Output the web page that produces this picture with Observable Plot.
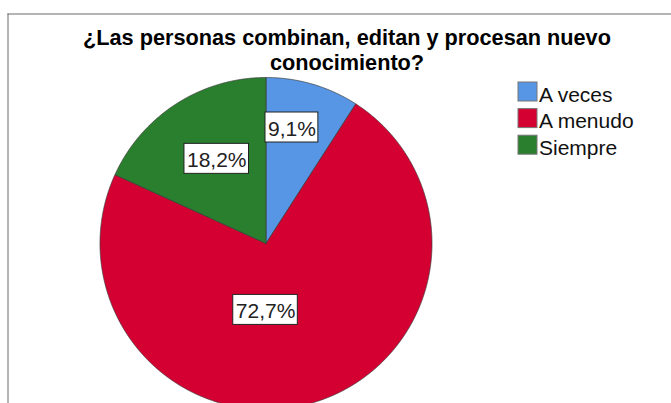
<!DOCTYPE html>
<html>
<head>
<meta charset="utf-8">
<script src="https://cdn.jsdelivr.net/npm/d3@7"></script>
<script src="https://cdn.jsdelivr.net/npm/@observablehq/plot@0.6"></script>
<style>
  html, body { margin: 0; padding: 0; background: #fff; }
  #chart svg { display: block; font-family: "Liberation Sans", Arial, sans-serif; }
</style>
</head>
<body>
<div id="chart"></div>
<script>
// ---- data ----
const categories = ["A veces", "A menudo", "Siempre"];
const percents = [9.1, 72.7, 18.2];
const pctLabels = ["9,1%", "72,7%", "18,2%"];
const colors = ["#5796e4", "#d50032", "#2a7f2e"];
const titleLines = ["¿Las personas combinan, editan y procesan nuevo", "conocimiento?"];

// ---- layout (pixels) ----
const W = 671, H = 403;
const cx = 265.5, cy = 243, R = 166;
// label placement relative to pie centre: [angle in degrees from 12 o'clock, fraction of radius]
const labelPolar = [[12.6, 0.716], [180.4, 0.40], [-30.2, 0.59]];

const arcs = d3.pie().sort(null).value(d => d)(percents);

// slice outlines as closed polygons in pixel space
const slicePts = [];
arcs.forEach((a, i) => {
  const cat = categories[i];
  slicePts.push({cat, x: cx, y: cy});
  const n = Math.max(2, Math.ceil((a.endAngle - a.startAngle) / 0.005));
  for (let k = 0; k <= n; k++) {
    const t = a.startAngle + (a.endAngle - a.startAngle) * k / n;
    slicePts.push({cat, x: cx + R * Math.sin(t), y: cy - R * Math.cos(t)});
  }
  slicePts.push({cat, x: cx, y: cy});
});

// label boxes
const ctx = document.createElement("canvas").getContext("2d");
ctx.font = "21px 'Liberation Sans', Arial, sans-serif";
const labelRows = categories.map((cat, i) => {
  const [deg, f] = labelPolar[i];
  const t = deg * Math.PI / 180;
  const x = cx + f * R * Math.sin(t);
  const y = cy - f * R * Math.cos(t);
  const w = ctx.measureText(pctLabels[i]).width + 5;
  return {cat, text: pctLabels[i], x, y, x1: x - w / 2, x2: x + w / 2, y1: y - 15, y2: y + 15};
});

const legendRows = categories.map((cat, i) => ({cat, i}));
const legY = 82, legStep = 26.6, sq = 19;

const chart = Plot.plot({
  width: W,
  height: H,
  margin: 0,
  x: {domain: [0, W], range: [0, W], axis: null},
  y: {domain: [0, H], range: [0, H], axis: null},
  color: {domain: categories, range: colors},
  style: {fontFamily: "'Liberation Sans', Arial, sans-serif", background: "#fff"},
  marks: [
    // frame lines
    Plot.ruleY([13.5], {x1: 7.5, x2: W, stroke: "#6b6b6b", strokeWidth: 1}),
    Plot.ruleX([7.5], {y1: 13.5, y2: H, stroke: "#6b6b6b", strokeWidth: 1}),
    // pie
    Plot.line(slicePts, {x: "x", y: "y", z: "cat", fill: "cat", stroke: "#3a3a3a", strokeWidth: 0.7, curve: "linear"}),
    // label boxes
    Plot.rect(labelRows, {x1: "x1", x2: "x2", y1: "y1", y2: "y2", fill: "white", stroke: "#222", strokeWidth: 1}),
    Plot.text(labelRows, {x: "x", y: "y", text: "text", fontSize: 21, fill: "#222", dy: 1.5}),
    // title (one text, two lines)
    Plot.text([titleLines.join("\n")], {x: () => 346.5, y: () => 69, text: d => d, fontSize: 21.7, lineHeight: 1.12, fontWeight: "bold", fill: "#000", lineAnchor: "bottom"}),
    // legend
    Plot.rect(legendRows, {x1: () => 518, x2: () => 518 + sq, y1: d => legY + d.i * legStep, y2: d => legY + d.i * legStep + sq, fill: "cat", stroke: "#777", strokeWidth: 1}),
    Plot.text(legendRows, {x: () => 538.5, y: d => legY + d.i * legStep + sq, text: "cat", textAnchor: "start", fontSize: 21, fill: "#111", lineAnchor: "bottom"})
  ]
});
document.getElementById("chart").appendChild(chart);
</script>
</body>
</html>
